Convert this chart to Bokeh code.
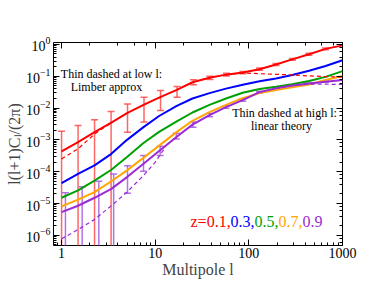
import numpy as np
from bokeh.plotting import figure
from bokeh.models import (ColumnDataSource, Whisker, TeeHead, Label, LogAxis,
                          NumeralTickFormatter, Range1d, LogTicker)
from bokeh.embed import file_html
from bokeh.resources import INLINE

# ---- data (log10 of l(l+1)C_l/2pi) ----
ell = [1, 1.5, 2.25, 3.4, 5, 7.5, 11, 17, 25, 38, 57, 86, 130, 195, 290, 440, 660, 1000]
red_log = [-3.36, -3.07, -2.76, -2.46, -2.16, -1.90, -1.67, -1.43, -1.19, -1.05, -0.95, -0.88, -0.78, -0.63, -0.47, -0.31, -0.14, -0.03]
blue_log = [-4.36, -4.07, -3.80, -3.44, -3.00, -2.60, -2.25, -1.93, -1.70, -1.53, -1.39, -1.27, -1.16, -1.07, -0.96, -0.83, -0.68, -0.50]
green_log = [-4.82, -4.59, -4.28, -3.94, -3.54, -3.10, -2.75, -2.42, -2.14, -1.90, -1.70, -1.52, -1.40, -1.33, -1.25, -1.15, -1.02, -0.84]
orange_log = [-5.09, -4.88, -4.64, -4.30, -3.96, -3.56, -3.18, -2.75, -2.40, -2.13, -1.90, -1.69, -1.53, -1.43, -1.35, -1.26, -1.12, -0.99]
purple_log = [-5.27, -5.07, -4.82, -4.54, -4.17, -3.75, -3.35, -2.90, -2.52, -2.22, -1.97, -1.75, -1.50, -1.38, -1.29, -1.23, -1.17, -1.12]

red_limber_ell = [1, 1.5, 2.25, 3.4]
red_limber_log = [-3.60, -3.28, -2.82, -2.46]
purple_limber_ell = [1, 1.5, 2.25, 3.4, 5, 7.5, 10, 13]
purple_limber_log = [-6.11, -5.82, -5.50, -5.07, -4.64, -4.12, -3.70, -3.20]

red_lin_ell = [57, 86, 130, 195, 290, 440, 660, 1000]
red_lin_log = [-0.95, -0.90, -0.92, -0.94, -0.96, -0.99, -1.01, -1.03]
purple_lin_ell = [195, 290, 440, 660, 1000]
purple_lin_log = [-1.38, -1.29, -1.25, -1.25, -1.26]

red_bar_ell = [1, 1.5, 2.25, 3.38, 5.06, 7.59, 11.4, 17.1, 25.6, 38.4, 57.7, 86.5, 130, 195, 292, 438, 657]
red_bar_top = [-2.73, -2.55, -2.37, -2.11, -1.87, -1.66, -1.45, -1.32, -1.11, -1.00, -0.91, -0.85, -0.74, -0.60, -0.44, -0.28, -0.11]
red_bar_bot = [-9, -9, -9, -9, -2.76, -2.44, -2.08, -1.66, -1.27, -1.10, -0.99, -0.92, -0.81, -0.66, -0.50, -0.34, -0.17]

purple_bar_ell = [1.1, 1.66, 2.5, 3.6, 5.06, 7.5, 11.3, 16.8, 25.3, 38, 57, 86, 130, 195, 292, 438, 657]
purple_bar_top = [-4.66, -4.47, -4.30, -4.07, -3.81, -3.49, -3.20, -2.79, -2.44, -2.17, -1.93, -1.71, -1.47, -1.35, -1.27, -1.21, -1.15]
purple_bar_bot = [-9, -9, -9, -9, -4.68, -3.99, -3.49, -2.97, -2.60, -2.27, -2.01, -1.79, -1.53, -1.41, -1.31, -1.25, -1.19]

series_names = ["0.1", "0.3", "0.5", "0.7", "0.9"]
series_logs = [red_log, blue_log, green_log, orange_log, purple_log]
colors = ["#ff0000", "#0000ff", "#00a000", "#ffa500", "#9a2ad6"]

FONT = "Liberation Serif"

def tv(a):
    return list(10.0 ** np.array(a, dtype=float))

p = figure(width=374, height=289, x_axis_type="log", y_axis_type="log",
           x_range=Range1d(0.82, 1000), y_range=Range1d(10 ** -6.32, 10 ** 0.06),
           output_backend="svg", toolbar_location=None,
           min_border_left=53, min_border_right=32, min_border_top=42, min_border_bottom=44)
p.background_fill_color = "white"
p.outline_line_color = "black"
p.outline_line_width = 1
p.xgrid.visible = False
p.ygrid.visible = False

# curves
for logs, c in zip(series_logs, colors):
    p.line(ell, tv(logs), line_color=c, line_width=2)

p.line(red_limber_ell, tv(red_limber_log), line_color=colors[0], line_width=1.2, line_dash="4 3")
p.line(purple_limber_ell, tv(purple_limber_log), line_color=colors[4], line_width=1.2, line_dash="4 3")
p.line(red_lin_ell, tv(red_lin_log), line_color=colors[0], line_width=1.2, line_dash="4 3")
p.line(purple_lin_ell, tv(purple_lin_log), line_color=colors[4], line_width=1.2, line_dash="4 3")

# error bars
for bl, bt, bb, c in [(red_bar_ell, red_bar_top, red_bar_bot, "#ff4040"),
                      (purple_bar_ell, purple_bar_top, purple_bar_bot, "#a050e0")]:
    src = ColumnDataSource(dict(base=bl, upper=tv(bt), lower=tv(bb)))
    w = Whisker(base="base", upper="upper", lower="lower", source=src,
                line_color=c, line_width=1.5, line_alpha=0.8,
                upper_head=TeeHead(size=7, line_color=c, line_width=1.5, line_alpha=0.8),
                lower_head=TeeHead(size=7, line_color=c, line_width=1.5, line_alpha=0.8))
    p.add_layout(w)

# axes styling
for ax in [p.xaxis[0], p.yaxis[0]]:
    ax.major_tick_in = 6
    ax.major_tick_out = 0
    ax.minor_tick_in = 3
    ax.minor_tick_out = 0
    ax.major_label_text_font = FONT
    ax.major_label_text_font_size = "14px"
    ax.major_label_text_color = "black"
    ax.axis_label_text_font = FONT
    ax.axis_label_text_font_style = "normal"
    ax.axis_label_text_font_size = "16px"
    ax.axis_line_color = None

p.xaxis[0].formatter = NumeralTickFormatter(format="0")
p.xaxis[0].axis_label = "Multipole l"
p.xaxis[0].axis_label_standoff = 0
p.xaxis[0].major_label_standoff = 2
p.yaxis[0].axis_label = "l(l+1)C\u2097/(2\u03c0)"
p.yaxis[0].axis_label_standoff = 0
p.yaxis[0].major_label_standoff = 3

for loc in ["above", "right"]:
    ax = LogAxis(ticker=LogTicker(), major_tick_in=6, major_tick_out=0,
                 minor_tick_in=3, minor_tick_out=0, axis_line_color=None,
                 major_label_text_color=None, major_label_standoff=0)
    p.add_layout(ax, loc)

# texts
def add_text(txt, x, y, color="black", size="12px", align="center"):
    p.add_layout(Label(x=x, y=y, x_units="screen", y_units="screen", text=txt,
                       text_font=FONT, text_font_size=size, text_color=color,
                       text_align=align, text_baseline="middle"))

add_text("Thin dashed at low l:", 58, 172)
add_text("Limber approx", 53, 159)
add_text("Thin dashed at high l:", 231, 133)
add_text("linear theory", 228, 120)

# legend-like colored text
xpos = 137
add_text("z=0.1,", xpos, 24, color=colors[0], size="16px", align="left")
xpos += 40
for name, c in zip(series_names[1:], colors[1:]):
    t = name + ("," if name != "0.9" else "")
    add_text(t, xpos, 24, color=c, size="16px", align="left")
    xpos += 24

open("out.html", "w").write(file_html(p, INLINE))
